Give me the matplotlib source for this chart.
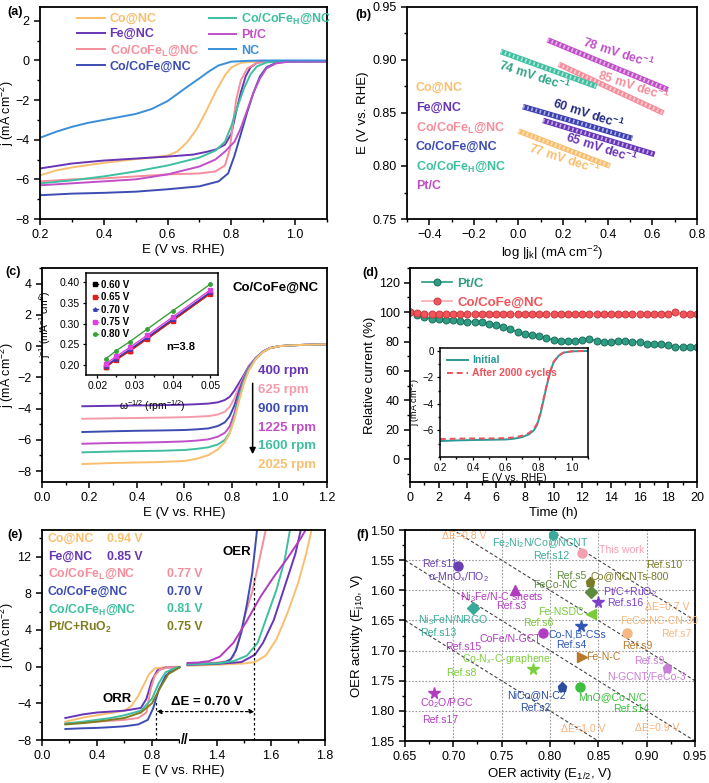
import matplotlib
matplotlib.use('Agg')
import matplotlib.pyplot as plt
from matplotlib.ticker import MultipleLocator, FixedLocator, FormatStrFormatter
import numpy as np

plt.rcParams['font.family'] = ['Liberation Sans', 'DejaVu Sans']
plt.rcParams['mathtext.default'] = 'regular'
plt.rcParams['font.size'] = 9
plt.rcParams['axes.linewidth'] = 1.3
plt.rcParams['xtick.major.width'] = 1.1
plt.rcParams['ytick.major.width'] = 1.1
plt.rcParams['xtick.minor.width'] = 1.0
plt.rcParams['ytick.minor.width'] = 1.0
plt.rcParams['xtick.major.size'] = 4
plt.rcParams['ytick.major.size'] = 4
plt.rcParams['xtick.minor.size'] = 2.5
plt.rcParams['ytick.minor.size'] = 2.5
plt.rcParams['xtick.labelsize'] = 9
plt.rcParams['ytick.labelsize'] = 9
plt.rcParams['axes.labelsize'] = 9.5
plt.rcParams['axes.labelpad'] = 2

# colours
c_co = '#f9bf6f'
c_fe = '#6735b5'
c_cofel = '#f58d9b'
c_cofe = '#3d4cb3'
c_cofeh = '#3ebfa0'
c_pt = '#c14fc9'
c_nc = '#3b8fd8'
c_ru = '#7f7d1f'

# ---------------- (a) ORR LSV ----------------
a_labels = ['Co@NC', 'Fe@NC', 'Co/CoFe$_L$@NC', 'Co/CoFe@NC', 'Co/CoFe$_H$@NC', 'Pt/C', 'NC']
a_E = [
    [0.2, 0.25, 0.3, 0.35, 0.4, 0.45, 0.5, 0.55, 0.6, 0.63, 0.66, 0.69, 0.72, 0.75, 0.78, 0.8, 0.83, 0.87, 0.9, 1.0, 1.1],
    [0.2, 0.3, 0.4, 0.5, 0.6, 0.68, 0.72, 0.75, 0.78, 0.8, 0.815, 0.83, 0.845, 0.86, 0.88, 0.9, 1.0, 1.1],
    [0.2, 0.3, 0.4, 0.5, 0.6, 0.7, 0.75, 0.78, 0.795, 0.805, 0.815, 0.83, 0.85, 0.88, 0.92, 1.1],
    [0.2, 0.3, 0.4, 0.5, 0.6, 0.7, 0.76, 0.79, 0.81, 0.83, 0.85, 0.87, 0.89, 0.91, 0.94, 0.98, 1.1],
    [0.2, 0.3, 0.4, 0.5, 0.6, 0.7, 0.75, 0.78, 0.8, 0.82, 0.84, 0.86, 0.88, 0.91, 0.95, 1.1],
    [0.2, 0.3, 0.4, 0.5, 0.6, 0.7, 0.75, 0.78, 0.81, 0.83, 0.85, 0.87, 0.89, 0.91, 0.94, 0.98, 1.1],
    [0.2, 0.25, 0.3, 0.35, 0.4, 0.45, 0.5, 0.55, 0.6, 0.63, 0.66, 0.7, 0.73, 0.76, 0.8, 0.85, 0.9, 1.0, 1.1],
]
a_j = [
    [-5.8, -5.55, -5.4, -5.28, -5.17, -5.07, -4.98, -4.9, -4.8, -4.6, -4.15, -3.5, -2.6, -1.6, -0.75, -0.35, -0.12, -0.06, -0.05, -0.04, -0.04],
    [-5.45, -5.2, -5.05, -4.95, -4.85, -4.75, -4.62, -4.5, -4.25, -3.7, -2.6, -1.6, -0.8, -0.35, -0.12, -0.06, -0.05, -0.05],
    [-6.1, -6.0, -5.95, -5.85, -5.75, -5.7, -5.6, -5.3, -4.5, -3.2, -2.0, -1.0, -0.4, -0.12, -0.05, -0.05],
    [-6.8, -6.72, -6.68, -6.62, -6.5, -6.35, -6.1, -5.7, -4.8, -3.7, -2.6, -1.6, -0.8, -0.35, -0.12, -0.05, -0.04],
    [-6.2, -6.05, -5.85, -5.6, -5.3, -4.9, -4.55, -4.1, -3.3, -2.3, -1.4, -0.7, -0.3, -0.1, -0.05, -0.04],
    [-6.3, -6.2, -6.1, -6.0, -5.75, -5.35, -5.0, -4.6, -4.1, -3.4, -2.5, -1.6, -0.9, -0.4, -0.15, -0.06, -0.05],
    [-3.9, -3.6, -3.35, -3.15, -3.0, -2.85, -2.7, -2.45, -2.05, -1.7, -1.35, -0.9, -0.55, -0.25, -0.06, -0.02, 0, 0, 0],
]
a_colors = [c_co, c_fe, c_cofel, c_cofe, c_cofeh, c_pt, c_nc]

# ---------------- (b) Tafel ----------------
b_labels = ['Co@NC', 'Fe@NC', 'Co/CoFe$_L$@NC', 'Co/CoFe@NC', 'Co/CoFe$_H$@NC', 'Pt/C']
b_logj = [[0.0, 0.41], [0.11, 0.61], [0.18, 0.65], [0.02, 0.51], [-0.08, 0.35], [0.13, 0.67]]
b_E = [[0.833, 0.800], [0.843, 0.811], [0.896, 0.850], [0.856, 0.826], [0.908, 0.875], [0.919, 0.872]]
b_slopes = ['77', '65', '85', '60', '74', '78']
b_colors = [c_co, c_fe, c_cofel, '#3b3fb0', c_cofeh, c_pt]
b_text_colors = [c_co, c_fe, c_cofel, '#252a85', '#2fa58a', c_pt]

# ---------------- (c) RDE ----------------
c_rpm = ['400 rpm', '625 rpm', '900 rpm', '1225 rpm', '1600 rpm', '2025 rpm']
c_E = [0.17, 0.3, 0.4, 0.5, 0.6, 0.65, 0.7, 0.74, 0.77, 0.79, 0.81, 0.83, 0.85, 0.87, 0.9, 0.93, 0.96, 1.0, 1.05, 1.1, 1.2]
c_j = [
    [-3.85, -3.82, -3.8, -3.78, -3.75, -3.72, -3.68, -3.6, -3.45, -3.25, -2.85, -2.35, -1.85, -1.3, -0.75, -0.35, -0.12, 0.0, 0.05, 0.08, 0.12],
    [-4.65, -4.62, -4.6, -4.58, -4.55, -4.52, -4.48, -4.38, -4.2, -3.9, -3.35, -2.6, -1.95, -1.35, -0.76, -0.35, -0.12, 0.0, 0.05, 0.08, 0.12],
    [-5.5, -5.45, -5.42, -5.4, -5.37, -5.33, -5.27, -5.12, -4.88, -4.5, -3.8, -2.85, -2.05, -1.4, -0.78, -0.36, -0.12, 0.0, 0.05, 0.08, 0.12],
    [-6.25, -6.2, -6.18, -6.15, -6.1, -6.05, -5.97, -5.8, -5.55, -5.15, -4.3, -3.1, -2.15, -1.45, -0.8, -0.37, -0.13, 0.0, 0.05, 0.08, 0.12],
    [-6.8, -6.75, -6.72, -6.7, -6.65, -6.58, -6.48, -6.3, -6.0, -5.55, -4.6, -3.3, -2.25, -1.5, -0.81, -0.37, -0.13, 0.0, 0.05, 0.08, 0.12],
    [-7.55, -7.48, -7.45, -7.42, -7.35, -7.22, -6.98, -6.62, -6.15, -5.6, -4.7, -3.5, -2.4, -1.6, -0.82, -0.38, -0.13, 0.0, 0.05, 0.08, 0.12],
]
c_colors = [c_fe, '#f59aab', c_cofe, c_pt, c_cofeh, c_co]

# inset (c): Koutecky-Levich
kl_w = [0.0222, 0.025, 0.0286, 0.0333, 0.04, 0.05]
kl_labels = ['0.60 V', '0.65 V', '0.70 V', '0.75 V', '0.80 V']
kl_inv_j = [
    [0.195, 0.213, 0.234, 0.264, 0.308, 0.374],
    [0.194, 0.212, 0.233, 0.263, 0.307, 0.373],
    [0.197, 0.215, 0.237, 0.267, 0.311, 0.377],
    [0.202, 0.220, 0.242, 0.272, 0.316, 0.382],
    [0.214, 0.234, 0.256, 0.287, 0.331, 0.396],
]
kl_colors = ['black', '#e0201e', '#3a3ab8', '#e040e0', '#3aa03a']
kl_markers = ['s', 's', '^', 's', 'o']

# ---------------- (d) durability ----------------
d_time = np.arange(0, 20.5, 0.5)
d_pt = [100, 98, 96.5, 95.5, 95, 94.8, 94.5, 94, 93.6, 93.5, 93, 92, 91, 90, 88.5, 86.5,
        85, 84.5, 84, 82.5, 81, 80.5, 80.5, 80.5, 81, 82, 80.5, 80, 80, 80.5, 80.5, 80,
        79.5, 78.5, 78, 78, 77.5, 76.5, 76.5, 76.5, 76.5]
d_cofe = [100, 99.2, 99, 99, 99, 99, 98.5, 99, 99, 99, 99, 98.8, 99, 99, 99, 98.8,
          99, 99, 99, 99, 98.8, 99, 99, 99, 99, 98.8, 99, 99, 99, 99, 99, 98.8,
          99, 99, 99, 98.8, 99, 100, 98.5, 98.8, 98.8]

# inset (d): LSV before / after cycling
dI_E = [0.2, 0.3, 0.4, 0.5, 0.6, 0.65, 0.7, 0.74, 0.77, 0.79, 0.81, 0.83, 0.85, 0.87, 0.89, 0.92, 0.95, 1.0, 1.05, 1.1]
dI_init = [-6.8, -6.75, -6.72, -6.7, -6.68, -6.62, -6.5, -6.3, -6.0, -5.6, -4.8, -3.7, -2.6, -1.6, -0.9, -0.4, -0.15, -0.05, -0.03, -0.02]
dI_after = [-6.65, -6.62, -6.6, -6.6, -6.58, -6.52, -6.4, -6.2, -5.9, -5.5, -4.7, -3.6, -2.5, -1.55, -0.85, -0.38, -0.14, -0.05, -0.03, -0.02]

# ---------------- (e) bifunctional ----------------
e_labels = ['Co@NC', 'Fe@NC', 'Co/CoFe$_L$@NC', 'Co/CoFe@NC', 'Co/CoFe$_H$@NC', 'Pt/C+RuO$_2$']
e_dE = ['0.94 V', '0.85 V', '0.77 V', '0.70 V', '0.81 V', '0.75 V']
e_colors = [c_co, c_fe, c_cofel, c_cofe, c_cofeh, c_ru]
e_orr_E = [
    [0.17, 0.3, 0.4, 0.5, 0.6, 0.65, 0.7, 0.74, 0.78, 0.82, 0.9, 1.0],
    [0.17, 0.3, 0.4, 0.5, 0.6, 0.72, 0.76, 0.8, 0.84, 0.9, 1.0],
    [0.17, 0.3, 0.4, 0.5, 0.6, 0.7, 0.76, 0.79, 0.82, 0.86, 0.92, 1.0],
    [0.17, 0.3, 0.4, 0.5, 0.6, 0.7, 0.77, 0.81, 0.85, 0.9, 0.95, 1.0],
    [0.17, 0.3, 0.4, 0.5, 0.6, 0.72, 0.8, 0.85, 0.9, 0.98, 1.0],
    [0.17, 0.3, 0.4, 0.5, 0.6, 0.72, 0.8, 0.86, 0.92, 1.0],
]
e_orr_j = [
    [-6.0, -5.55, -5.3, -5.05, -4.8, -4.3, -3.2, -2.0, -0.8, -0.2, -0.05, 0.0],
    [-5.6, -5.2, -5.0, -4.9, -4.8, -4.5, -3.5, -1.5, -0.4, -0.1, -0.05],
    [-6.2, -6.1, -6.0, -5.9, -5.8, -5.6, -5.0, -2.5, -1.0, -0.3, -0.08, -0.05],
    [-6.8, -6.72, -6.68, -6.6, -6.5, -6.3, -5.8, -4.5, -2.5, -1.0, -0.3, -0.05],
    [-6.2, -6.0, -5.8, -5.6, -5.3, -4.8, -3.5, -1.8, -0.6, -0.1, -0.05],
    [-6.3, -6.15, -6.0, -5.8, -5.6, -5.0, -4.0, -2.3, -0.8, -0.1],
]
e_oer_E = [
    [1.29, 1.40, 1.50, 1.54, 1.58, 1.62, 1.66, 1.70, 1.73, 1.75, 1.76],
    [1.29, 1.40, 1.49, 1.54, 1.57, 1.61, 1.65, 1.69, 1.71, 1.72],
    [1.29, 1.35, 1.40, 1.44, 1.46, 1.48, 1.50, 1.53, 1.55, 1.58, 1.59],
    [1.29, 1.35, 1.40, 1.43, 1.45, 1.47, 1.49, 1.51, 1.53, 1.55],
    [1.29, 1.40, 1.46, 1.51, 1.55, 1.58, 1.62, 1.65, 1.67, 1.68],
    [1.29, 1.33, 1.37, 1.41, 1.46, 1.51, 1.56, 1.61, 1.66, 1.71, 1.74],
]
e_oer_j = [
    [0.1, 0.2, 0.35, 0.5, 1.2, 3.0, 5.8, 9.1, 12.3, 14.9, 16],
    [0.2, 0.3, 0.5, 1.3, 2.6, 5.1, 8.7, 12.3, 14.9, 16],
    [0.3, 0.35, 0.45, 0.6, 1.1, 2.9, 5.3, 8.2, 10.8, 14.9, 16],
    [0.25, 0.3, 0.36, 0.5, 0.8, 1.8, 3.8, 6.8, 10.2, 15.5],
    [0.25, 0.35, 0.6, 1.2, 2.6, 5.1, 8.4, 11.6, 14.9, 16],
    [0.4, 0.45, 0.6, 1.1, 2.6, 5.0, 7.6, 9.8, 11.8, 14.0, 15.5],
]
e_oer_colors = [c_co, c_fe, c_cofel, c_cofe, c_cofeh, '#b23cc0']
e_E_half = 0.833
e_E_j10 = 1.538

# ---------------- (f) comparison ----------------
f_names = ['α-MnO$_x$/ΠO$_2$', 'Ni$_3$FeN/NRGO', 'Co$_2$O/PGC', 'Ni$_3$Fe/N-C sheets', 'CoFe/N-GCT',
           'Co-N$_x$-C-graphene', 'NiCo@N-C2', 'MnO@Co-N/C', 'Fe$_2$Ni$_2$N/Co@NCNT', 'This work',
           'Co@NCNTs-800', 'FeCo-NC', 'Pt/C+RuO$_2$', 'Fe-NSDC', 'Co-N,B-CSs', 'FeCo-NC-CN-30',
           'Fe-N-C', 'N-GCNT/FeCo-3']
f_refs = ['Ref.s11', 'Ref.s13', 'Ref.s17', 'Ref.s3', 'Ref.s15', 'Ref.s8', 'Ref.s2', 'Ref.s14',
          'Ref.s12', '', 'Ref.s10', 'Ref.s5', 'Ref.s16', 'Ref.s6', 'Ref.s4', 'Ref.s7', 'Ref.s9', 'Ref.s9']
f_e_half = [0.705, 0.72, 0.68, 0.764, 0.793, 0.782, 0.812, 0.831, 0.803, 0.833,
            0.841, 0.842, 0.85, 0.842, 0.832, 0.88, 0.833, 0.921]
f_e_j10 = [1.56, 1.63, 1.77, 1.60, 1.67, 1.73, 1.76, 1.76, 1.508, 1.538,
           1.586, 1.603, 1.619, 1.639, 1.659, 1.671, 1.71, 1.729]
f_markers = ['o', 'D', '*', '^', 'o', '*', 'p', 'o', 'h', 'o', 'p', 'D', '*', '<', '*', 'o', '>', 'p']
f_colors = ['#6a3fb5', '#3aaa9a', '#b23cc0', '#b23cc0', '#b23cc0', '#7ccf3c', '#2b4da0', '#3cbf3c',
            '#3aaa9a', '#f4a0b0', '#7a7a28', '#5d8a3c', '#7b3fc8', '#7acc3a', '#2e55b8', '#f5b880',
            '#b87a2a', '#c97dd8']
f_dE = [0.7, 0.8, 0.9, 1.0]

# label placement for (f)
f_name_xy = [(0.705, 1.578), (0.70, 1.649), (0.693, 1.787), (0.75, 1.611), (0.759, 1.681),
             (0.755, 1.714), (0.786, 1.774), (0.865, 1.777), (0.79, 1.522), (0.874, 1.533),
             (0.882, 1.576), (0.805, 1.591), (0.883, 1.603), (0.811, 1.636), (0.828, 1.674),
             (0.913, 1.651), (0.855, 1.71), (0.90, 1.744)]
f_ref_xy = [(0.686, 1.557), (0.684, 1.671), (0.687, 1.815), (0.76, 1.626), (0.71, 1.694),
            (0.708, 1.737), (0.785, 1.795), (0.884, 1.797), (0.801, 1.543), (0, 0),
            (0.918, 1.558), (0.822, 1.576), (0.878, 1.621), (0.788, 1.654), (0.822, 1.691),
            (0.931, 1.672), (0.89, 1.692), (0.903, 1.717)]
f_dE_xy = [(0.921, 1.627), (0.711, 1.51), (0.911, 1.829), (0.834, 1.830)]


def style(ax, xminor, yminor):
    ax.xaxis.set_minor_locator(MultipleLocator(xminor))
    ax.yaxis.set_minor_locator(MultipleLocator(yminor))
    ax.tick_params(which='both', direction='out', top=False, right=False)


def inset_style(axi, size=7.5):
    axi.tick_params(labelsize=size, length=2.5, width=0.9, pad=2)
    axi.tick_params(which='both', top=False, right=False)
    axi.tick_params(which='minor', length=1.5)
    for sp in axi.spines.values():
        sp.set_linewidth(1.1)


fig = plt.figure(figsize=(7.09, 7.83), dpi=100)

# ---- (a)
ax = fig.add_axes([0.0564, 0.7203, 0.4048, 0.2708])
for lab, E, j, c in zip(a_labels, a_E, a_j, a_colors):
    ax.plot(E, j, color=c, lw=1.4, label=lab)
ax.set_xlim(0.2, 1.1)
ax.set_ylim(-8, 2.7)
ax.set_xticks([0.2, 0.4, 0.6, 0.8, 1.0])
ax.set_yticks([-8, -6, -4, -2, 0, 2])
style(ax, 0.1, 1)
ax.set_xlabel('E (V vs. RHE)')
ax.set_ylabel('j (mA cm$^{-2}$)', fontsize=9)
ax.yaxis.set_label_coords(-0.082, 0.5)
ax.legend(ncol=2, loc='upper left', bbox_to_anchor=(0.09, 1.03), frameon=False,
          handlelength=2.2, handletextpad=0.4, columnspacing=0.8, labelspacing=0.25,
          prop={'weight': 'bold', 'size': 9}, labelcolor='linecolor')

# ---- (b)
ax = fig.add_axes([0.5740, 0.7203, 0.4090, 0.2708])
for x, E, c in zip(b_logj, b_E, b_colors):
    ax.plot(x, E, color=c, lw=4.0, solid_capstyle='butt')
    ax.plot(x, E, color='white', lw=2.6, alpha=0.6, dashes=(0.45, 0.75))
slope_xy = [(0.205, 0.8065), (0.37, 0.8165), (0.514, 0.8755), (0.31, 0.8485), (0.069, 0.8845), (0.446, 0.9065)]
for s, (x, y), c in zip(b_slopes, slope_xy, b_text_colors):
    ax.text(x, y, s + ' mV dec$^{-1}$', color=c, fontsize=9, fontweight='bold',
            rotation=-18, ha='center', va='center')
for i, (lab, c) in enumerate(zip(b_labels, b_colors)):
    ax.text(-0.46, 0.8736 - i * 0.01857, lab, color=c if i != 3 else c_cofe, fontsize=9,
            fontweight='bold', ha='left', va='center')
ax.set_xlim(-0.5, 0.8)
ax.set_ylim(0.75, 0.95)
ax.set_xticks([-0.4, -0.2, 0.0, 0.2, 0.4, 0.6, 0.8])
ax.set_yticks([0.75, 0.80, 0.85, 0.90, 0.95])
ax.yaxis.set_major_formatter(FormatStrFormatter('%.2f'))
style(ax, 0.1, 0.025)
ax.set_xlabel('log |j$_k$| (mA cm$^{-2}$)')
ax.set_ylabel('E (V vs. RHE)')
ax.yaxis.set_label_coords(-0.13, 0.5)

# ---- (c)
ax = fig.add_axes([0.0592, 0.3844, 0.4020, 0.2733])
for j, c in zip(c_j, c_colors):
    ax.plot(c_E, j, color=c, lw=1.4)
for i, (lab, c) in enumerate(zip(c_rpm, c_colors)):
    ax.text(0.91, -1.6 - i * 1.205, lab, color=c, fontsize=9.5, fontweight='bold', ha='left', va='center')
ax.annotate('', xy=(0.887, -7.1), xytext=(0.887, -2.2),
            arrowprops=dict(arrowstyle='-|>', color='black', lw=1.1, mutation_scale=9))
ax.text(0.982, 3.74, 'Co/CoFe@NC', fontsize=9.5, fontweight='bold', ha='center', va='center')
ax.set_xlim(0, 1.2)
ax.set_ylim(-8.7, 5)
ax.set_xticks([0, 0.2, 0.4, 0.6, 0.8, 1.0, 1.2])
ax.set_yticks([-8, -6, -4, -2, 0, 2, 4])
style(ax, 0.1, 1)
ax.set_xlabel('E (V vs. RHE)')
ax.set_ylabel('j (mA cm$^{-2}$)', fontsize=9)
ax.yaxis.set_label_coords(-0.09, 0.5)

axi = fig.add_axes([0.1213, 0.5211, 0.1862, 0.1303])
for lab, v, c, m in zip(kl_labels, kl_inv_j, kl_colors, kl_markers):
    axi.plot(kl_w, v, color=c, lw=1.0, marker=m, ms=2.5, label=lab)
axi.set_xlim(0.017, 0.052)
axi.set_ylim(0.175, 0.423)
axi.set_xticks([0.02, 0.03, 0.04, 0.05])
axi.set_yticks([0.20, 0.25, 0.30, 0.35, 0.40])
axi.yaxis.set_major_formatter(FormatStrFormatter('%.2f'))
axi.xaxis.set_minor_locator(MultipleLocator(0.005))
inset_style(axi)
axi.set_xlabel('ω$^{-1/2}$ (rpm$^{-1/2}$)', fontsize=7.5)
axi.set_ylabel('j$^{-1}$ (mA$^{-1}$ cm$^{2}$)', fontsize=7.5)
axi.yaxis.set_label_coords(-0.25, 0.5)
axi.xaxis.set_label_coords(0.5, -0.23)
axi.legend(loc='upper left', frameon=False, handlelength=0.5, handletextpad=0.3, labelspacing=0.25,
           borderpad=0.2, prop={'weight': 'bold', 'size': 7})
axi.text(0.042, 0.243, 'n=3.8', fontsize=8, fontweight='bold', ha='center', va='center')

# ---- (d)
ax = fig.add_axes([0.5783, 0.3844, 0.4048, 0.2733])
ax.plot(d_time, d_pt, color='#2a9a80', lw=1.2, marker='o', ms=5, mfc='#2f9d83',
        mec='#1d6e5c', mew=0.7, label='Pt/C')
ax.plot(d_time, d_cofe, color='#f7aab0', lw=1.2, marker='o', ms=5, mfc='#f2545a',
        mec='#c83a40', mew=0.7, label='Co/CoFe@NC')
ax.set_xlim(0, 20)
ax.set_ylim(-15.5, 130)
ax.set_xticks(range(0, 21, 2))
ax.set_yticks(range(0, 121, 20))
style(ax, 1, 10)
ax.set_xlabel('Time (h)')
ax.set_ylabel('Relative current (%)')
ax.yaxis.set_label_coords(-0.12, 0.5)
ax.legend(loc='upper left', bbox_to_anchor=(0.0, 1.01), frameon=False, handlelength=2.3,
          handletextpad=0.4, labelspacing=0.5, prop={'weight': 'bold', 'size': 9.5},
          labelcolor='markerfacecolor')

axi = fig.add_axes([0.6206, 0.4163, 0.2087, 0.1392])
axi.plot(dI_E, dI_init, color='#2a9a9a', lw=1.4, label='Initial')
axi.plot(dI_E, dI_after, color='#f0505a', lw=1.4, ls=(0, (3, 2)), label='After 2000 cycles')
axi.set_xlim(0.2, 1.1)
axi.set_ylim(-8, 0.2)
axi.set_xticks([0.2, 0.4, 0.6, 0.8, 1.0])
axi.set_yticks([-6, -4, -2, 0])
axi.xaxis.set_minor_locator(MultipleLocator(0.1))
axi.yaxis.set_minor_locator(MultipleLocator(1))
inset_style(axi, 7)
axi.set_xlabel('E (V vs. RHE)', fontsize=7.5)
axi.set_ylabel('j (mA cm$^{-2}$)', fontsize=6.5)
axi.yaxis.set_label_coords(-0.125, 0.5)
axi.xaxis.set_label_coords(0.5, -0.15)
axi.legend(loc='upper left', frameon=False, handlelength=2.0, handletextpad=0.4, labelspacing=0.3,
           borderpad=0.2, prop={'weight': 'bold', 'size': 7.5}, labelcolor='linecolor')

# ---- (e) with broken x axis
BRK0, BRK1, K = 1.04, 1.28, 1.96


def fwd(x):
    x = np.asarray(x, dtype=float)
    return np.where(x <= BRK0, x, np.where(x < BRK1, BRK0, BRK0 + (x - BRK1) * K))


def inv(y):
    y = np.asarray(y, dtype=float)
    return np.where(y <= BRK0, y, BRK1 + (y - BRK0) / K)


ax = fig.add_axes([0.0592, 0.0549, 0.3992, 0.2682])
ax.set_xscale('function', functions=(fwd, inv))
for E, j, c in zip(e_orr_E, e_orr_j, e_colors):
    ax.plot(E, j, color=c, lw=1.4)
for E, j, c in zip(e_oer_E, e_oer_j, e_oer_colors):
    ax.plot(E, j, color=c, lw=1.4)
ax.set_xlim(0, 1.8)
ax.set_ylim(-8, 14.9)
ax.xaxis.set_major_locator(FixedLocator([0, 0.4, 0.8, 1.4, 1.6, 1.8]))
ax.xaxis.set_minor_locator(FixedLocator([0.2, 0.6, 1.0, 1.5, 1.7]))
ax.xaxis.set_major_formatter(FormatStrFormatter('%.1f'))
ax.set_yticks([-8, -4, 0, 4, 8, 12])
ax.yaxis.set_minor_locator(MultipleLocator(2))
ax.tick_params(which='both', direction='out', top=False, right=False)
ax.set_xlabel('E (V vs. RHE)')
ax.set_ylabel('j (mA cm$^{-2}$)', fontsize=9)
ax.yaxis.set_label_coords(-0.09, 0.5)
ax.text(0.505, 0.0, '//', transform=ax.transAxes, ha='center', va='center', fontsize=10,
        fontweight='bold', bbox=dict(facecolor='white', edgecolor='none', pad=0.5))
ax.plot([e_E_half, e_E_half], [-8, -3.6], color='black', lw=0.9, ls=(0, (2, 2)))
ax.plot([e_E_j10, e_E_j10], [-8, 10], color='black', lw=0.9, ls=(0, (2, 2)))
ax.annotate('', xy=(e_E_half, -4.9), xytext=(e_E_j10, -4.9),
            arrowprops=dict(arrowstyle='<|-|>', color='black', lw=0.9, ls=(0, (2, 2)),
                            mutation_scale=7, shrinkA=0, shrinkB=0))
ax.text(1.363, -3.9, 'ΔE = 0.70 V', fontsize=9.5, fontweight='bold', ha='center', va='center')
ax.text(0.548, -3.5, 'ORR', fontsize=9.5, fontweight='bold', ha='center', va='center')
ax.text(1.474, 12.5, 'OER', fontsize=9.5, fontweight='bold', ha='center', va='center')
e_val_x = [0.23, 0.23, 0.44, 0.44, 0.44, 0.44]
for i, (lab, v, c) in enumerate(zip(e_labels, e_dE, e_colors)):
    yy = 0.957 - i * 0.0838
    ax.text(0.02, yy, lab, transform=ax.transAxes, color=c, fontsize=8.8, fontweight='bold',
            ha='left', va='center')
    ax.text(e_val_x[i], yy, v, transform=ax.transAxes, color=c, fontsize=8.8, fontweight='bold',
            ha='left', va='center')

# ---- (f)
ax = fig.add_axes([0.5712, 0.0536, 0.4090, 0.2695])
ax.grid(True, ls=(0, (1.5, 1.5)), color='#9a9a9a', lw=0.8)
xs = np.array([0.65, 0.95])
for d in f_dE:
    ax.plot(xs, xs + d, color='#444444', lw=0.8, ls=(0, (3, 2)))
for x, y, m, c in zip(f_e_half, f_e_j10, f_markers, f_colors):
    ms = 8.5 if m == '*' else 6.5
    ax.plot(x, y, marker=m, ms=ms, color=c, mec=c, ls='none', zorder=3)
for name, ref, (nx, ny), (rx, ry), c in zip(f_names, f_refs, f_name_xy, f_ref_xy, f_colors):
    ax.text(nx, ny, name, color=c, fontsize=7.6, ha='center', va='center')
    if ref:
        ax.text(rx, ry, ref, color=c, fontsize=7.6, ha='center', va='center')
for d, (x, y) in zip(f_dE, f_dE_xy):
    ax.text(x, y, 'ΔE=%.1f V' % d, color='#f7b27c', fontsize=7.6, ha='center', va='center')
ax.set_xlim(0.65, 0.95)
ax.set_ylim(1.85, 1.50)
ax.set_xticks(np.arange(0.65, 0.951, 0.05))
ax.set_yticks(np.arange(1.50, 1.851, 0.05))
ax.xaxis.set_major_formatter(FormatStrFormatter('%.2f'))
ax.yaxis.set_major_formatter(FormatStrFormatter('%.2f'))
style(ax, 0.025, 0.025)
ax.set_xlabel('OER activity (E$_{1/2}$, V)')
ax.set_ylabel('OER activity (E$_{j10}$, V)')
ax.yaxis.set_label_coords(-0.135, 0.5)

# panel letters
for lab, x, y in [('(a)', 0.021, 0.985), ('(b)', 0.512, 0.981), ('(c)', 0.018, 0.653),
                  ('(d)', 0.522, 0.651), ('(e)', 0.021, 0.317), ('(f)', 0.511, 0.317)]:
    fig.text(x, y, lab, fontsize=9, fontweight='bold', ha='center', va='center')

fig.savefig('out.png', dpi=100)
